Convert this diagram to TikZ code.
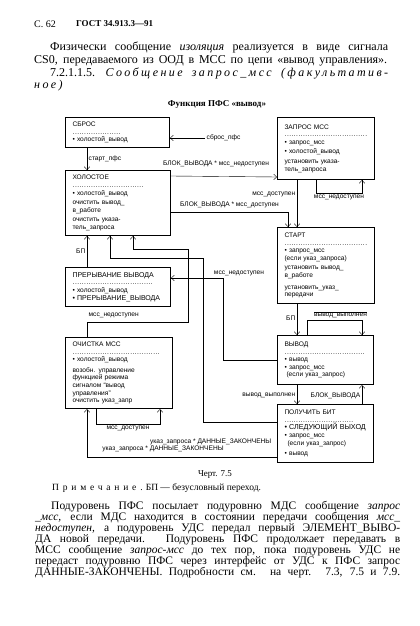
\documentclass[tikz,border=0pt]{standalone}
\usepackage{fontspec}
\setmainfont{Liberation Serif}
\setsansfont{Liberation Sans}
\usetikzlibrary{arrows.meta}

\newcommand{\lbs}{\sffamily\fontsize{6.6}{7.6}\selectfont}
\newcommand{\dotrule}[1]{\leavevmode\hbox to #1{\leaders\hbox to 2.3pt{\hss.\hss}\hfill}}
\newcommand{\bul}{\textbullet~}
\newcommand{\jline}[2]{\makebox[#1][s]{#2}}
\newcommand{\spc}{\addfontfeature{LetterSpace=20}}

\begin{document}
\begin{tikzpicture}[x=1pt, y=-1pt,
  st/.style={draw, line width=1pt, anchor=north west, align=left,
             inner xsep=7pt, inner ysep=3pt, font=\lbs},
  lb/.style={font=\lbs, inner sep=1.5pt},
  tx/.style={anchor=west, inner sep=0pt, font=\fontsize{12}{14}\selectfont},
  px/.style={tx, font=\fontsize{11.5}{13}\selectfont},
  >={Straight Barb[length=3pt,width=5.5pt]}]
\fill[white] (0,0) rectangle (420,626);
\useasboundingbox (0,0) rectangle (420,626);

% page head and text above the chart
\node[tx, font=\fontsize{10}{12}\selectfont] (pg) at (34,24) {С.~62};
\node[tx, font=\fontsize{9}{11}\selectfont\bfseries] (gost) at (76,24) {ГОСТ 34.913.3—91};
\node[tx] (t1) at (50,48) {\jline{338pt}{Физически сообщение \textit{изоляция} реализуется в виде сигнала}};
\node[tx] (t2) at (34,61) {\jline{353pt}{CS0, передаваемого из ООД в МСС по цепи «вывод управления».}};
\node[tx] (t3) at (50,74) {\jline{338pt}{7.2.1.1.5. {\itshape\spc Сообщение запрос\_мсс (факультатив-}}};
\node[tx] (t4) at (34,86) {{\itshape\spc ное)}};

\node[font=\fontsize{9}{11}\selectfont\bfseries] (title) at (217,104) {Функция ПФС «вывод»};

% states
\node[st, text width=90pt, minimum height=30pt] (reset) at (65,117)
  {СБРОС\\ \dotrule{49pt}\\ \bul холостой\_вывод};
\node[st, text width=91pt, minimum height=65pt] (idle) at (65,170)
  {ХОЛОСТОЕ\\ \dotrule{72pt}\\ \bul холостой\_вывод\\[2pt]
   очистить вывод\_\\ в\_работе\\[2pt] очистить указа-\\ тель\_запроса};
\node[st, text width=91pt, minimum height=39pt] (intr) at (65,267)
  {{\fontsize{7}{8}\selectfont ПРЕРЫВАНИЕ ВЫВОДА}\\ \dotrule{82pt}\\ \bul холостой\_вывод\\
   {\fontsize{7}{8}\selectfont\bul ПРЕРЫВАНИЕ\_ВЫВОДА}};
\node[st, text width=93pt, minimum height=71pt] (clear) at (65,337)
  {ОЧИСТКА МСС\\ \dotrule{89pt}\\ \bul холостой\_вывод\\[3pt]
   возобн. управление\\ функцией режима\\ сигналом “вывод\\ управления”\\
   очистить указ\_запр};
\node[st, text width=83pt, minimum height=62pt] (req) at (277,117)
  {ЗАПРОС МСС\\ \dotrule{83pt}\\ \bul запрос\_мсс\\[2pt] \bul холостой\_вывод\\[2pt]
   установить указа-\\ тель\_запроса};
\node[st, text width=83pt, minimum height=76pt] (start) at (277,227)
  {СТАРТ\\ \dotrule{83pt}\\ \bul запрос\_мсс\\ (если указ\_запроса)\\[2pt]
   установить вывод\_\\ в\_работе\\[4pt] установить\_указ\_\\ передачи};
\node[st, text width=82pt, minimum height=49pt] (out) at (277,335)
  {ВЫВОД\\ \dotrule{82pt}\\ \bul вывод\\ \bul запрос\_мсс\\ \hspace*{2pt}(если указ\_запрос)};
\node[st, text width=82pt, minimum height=58pt] (getbit) at (277,404)
  {ПОЛУЧИТЬ БИТ\\ \dotrule{70pt}\\ {\fontsize{7.2}{8}\selectfont\bul СЛЕДУЮЩИЙ ВЫХОД}\\
   \bul запрос\_мсс\\ \hspace*{3pt}(если указ\_запрос)\\[3pt] \bul вывод};

% transitions
\node[lb, anchor=west] (lsr) at (205,138) {сброс\_пфс};
\draw[->] (lsr.west) -- (lsr.west -| reset.east);
\draw[->] ([xshift=22pt]reset.south west) -- node[lb, right] {старт\_пфс} ([xshift=22pt]idle.north west);
\draw[->] ([yshift=-6pt]idle.north east) -- node[lb, above=8pt, xshift=-8pt] {БЛОК\_ВЫВОДА * мсс\_недоступен} ([yshift=3pt]req.south west);
\draw[->] ([yshift=-42pt]idle.north east) -| node[lb, pos=0.25, above=2pt] {БЛОК\_ВЫВОДА * мсс\_доступен} ([xshift=11pt]start.north west);
\draw[->] ([xshift=20pt]req.south west) -- node[lb, left, pos=0.3] {мсс\_доступен} ([xshift=20pt]start.north west);
\draw[->] ([xshift=39pt]req.south west) -- ++(0,13) -| node[lb, pos=0.25, below] {мсс\_недоступен} ([xshift=85pt]req.south west);
\draw[->] ([xshift=20pt]start.south west) -- node[lb, left, pos=0.47] {БП} ([xshift=20pt]out.north west);
\draw[->] ([xshift=30pt]out.north west) -- ++(0,-15) -| node[lb, pos=0.25, above, xshift=6pt] {$\overline{\mbox{\lbs вывод\_выполнен}}$} ([xshift=85pt]out.north west);
\draw[->] ([xshift=20pt]out.south west) -- node[lb, left, pos=0.55] {вывод\_выполнен} ([xshift=20pt]getbit.north west);
\draw[->] ([xshift=85pt]getbit.north west) -- node[lb, left, pos=0.45] {БЛОК\_ВЫВОДА} ([xshift=85pt]out.south west);
\draw[->] ([yshift=-25pt]out.north west) -| ([xshift=52pt, yshift=-11pt]intr.north east)
  node[lb, above, xshift=16pt] {мсс\_недоступен} -- ([yshift=-11pt]intr.north east);
\draw[->] ([xshift=22pt]intr.north west) -- node[lb, left] {БП} ([xshift=22pt]idle.south west);
\draw[->] ([yshift=-18pt]getbit.north west)
  node[lb, anchor=north east, xshift=-4pt, yshift=-15pt] {указ\_запроса * ДАННЫЕ\_ЗАКОНЧЕНЫ}
  -| ([xshift=138pt, yshift=-22pt]idle.south west) -| ([xshift=45pt]idle.south west);
\draw[->] ([yshift=-53pt]getbit.north west) -| node[lb, pos=0.3, above=3pt] {указ\_запроса * ДАННЫЕ\_ЗАКОНЧЕНЫ} ([xshift=22pt]clear.south west);
\draw[->] ([xshift=31pt]clear.south west) -- ++(0,15) -| node[lb, pos=0.25, below] {мсс\_доступен} ([xshift=95pt]clear.south west);
\draw[->] ([xshift=22pt]clear.north west) |- node[lb, pos=0.5, above right, yshift=2pt] {мсс\_недоступен}
  ([xshift=123pt, yshift=15pt]clear.north west) |- ([xshift=68pt, yshift=-13pt]idle.south west)
  -- ([xshift=68pt]idle.south west);

% caption, note and text below the chart
\node[font=\fontsize{9}{11}\selectfont] (cap) at (215,475) {Черт. 7.5};
\node[tx, font=\fontsize{9.5}{11}\selectfont] (note) at (52,488) {{\addfontfeature{LetterSpace=40}Примечание.} БП — безусловный переход.};
\node[px] (p1) at (51,507) {\jline{349pt}{Подуровень ПФС посылает подуровню МДС сообщение \textit{запрос}}};
\node[px] (p2) at (35,518) {\jline{365pt}{\textit{\_мсс,} если МДС находится в состоянии передачи сообщения \textit{мсс\_}}};
\node[px] (p3) at (35,529) {\jline{365pt}{\textit{недоступен,} а подуровень УДС передал первый ЭЛЕМЕНТ\_ВЫВО-}};
\node[px] (p4) at (35,540) {\jline{365pt}{ДА новой передачи. Подуровень ПФС продолжает передавать в}};
\node[px] (p5) at (35,551) {\jline{365pt}{МСС сообщение \textit{запрос-мсс} до тех пор, пока подуровень УДС не}};
\node[px] (p6) at (35,562) {\jline{365pt}{передаст подуровню ПФС через интерфейс от УДС к ПФС запрос}};
\node[px] (p7) at (35,573) {\jline{365pt}{ДАННЫЕ-ЗАКОНЧЕНЫ. Подробности см. на черт. 7.3, 7.5 и 7.9.}};
\end{tikzpicture}
\end{document}
